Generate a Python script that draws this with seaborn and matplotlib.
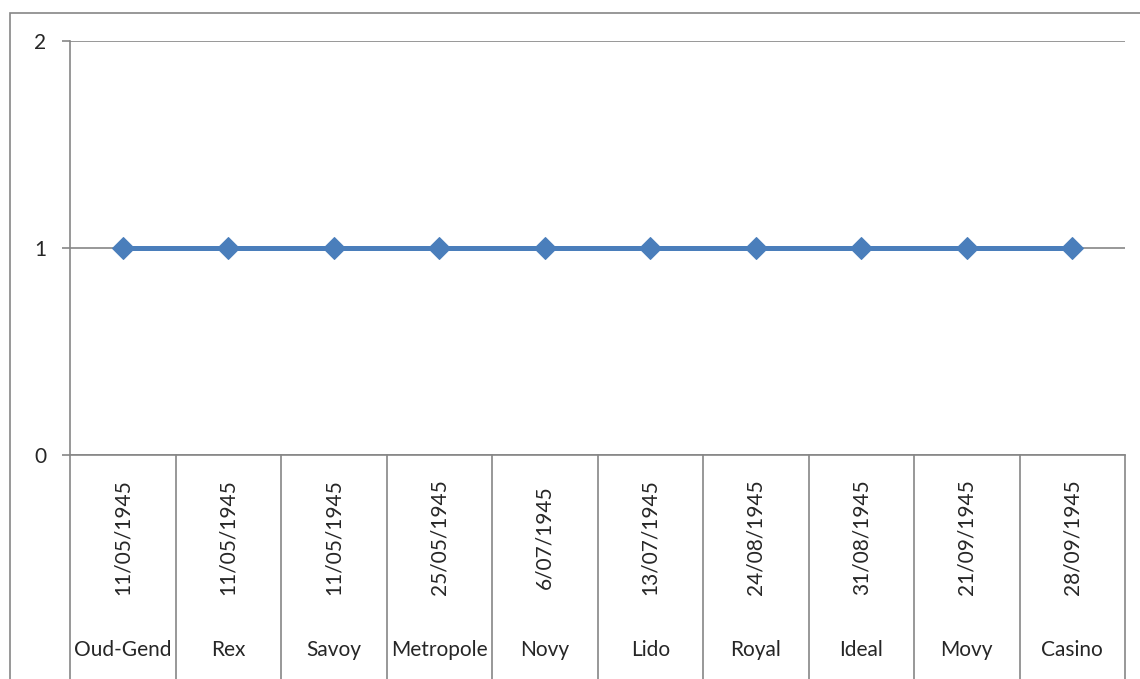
import matplotlib
matplotlib.use("Agg")
import matplotlib.pyplot as plt
import matplotlib.patches as mpatches
import seaborn as sns
import pandas as pd

# Chart data
cinemas = ["Oud-Gend", "Rex", "Savoy", "Metropole", "Novy", "Lido",
           "Royal", "Ideal", "Movy", "Casino"]
dates = ["11/05/1945", "11/05/1945", "11/05/1945", "25/05/1945", "6/07/1945",
         "13/07/1945", "24/08/1945", "31/08/1945", "21/09/1945", "28/09/1945"]
counts = [1, 1, 1, 1, 1, 1, 1, 1, 1, 1]
y_ticks = [0, 1, 2]

sns.set_style("white")
plt.rcParams['font.family'] = ['Lato', 'DejaVu Sans']

grey = "#868686"
blue = "#4A7EBB"

df = pd.DataFrame({"pos": range(len(cinemas)), "count": counts})

fig = plt.figure(figsize=(11.4, 6.79), dpi=100)
# outer chart border like the Excel chart area
fig.patches.append(mpatches.Rectangle((10 / 1140, -0.05), 1.2, 1 - 13 / 679 + 0.05,
                                      transform=fig.transFigure, fill=False,
                                      edgecolor=grey, linewidth=1.2))

ax = fig.add_axes([70 / 1140, 1 - 455 / 679, 1055 / 1140, 414 / 679])

sns.lineplot(data=df, x="pos", y="count", ax=ax, color=blue, linewidth=3.6,
             marker="D", markersize=11, markeredgecolor=blue, zorder=3)

ax.set_xlim(-0.5, len(cinemas) - 0.5)
ax.set_ylim(0, 2)
ax.set_yticks(y_ticks)
ax.set_yticklabels([str(t) for t in y_ticks], fontsize=15)
ax.set_xticks([])
ax.set_xlabel("")
ax.set_ylabel("")
ax.yaxis.grid(True, color=grey, linewidth=1.2)
ax.set_axisbelow(True)
ax.tick_params(axis="y", length=6, width=1.2, color=grey, pad=11, direction="out",
               left=True)

for side in ["top", "right"]:
    ax.spines[side].set_visible(False)
for side in ["left", "bottom"]:
    ax.spines[side].set_color(grey)
    ax.spines[side].set_linewidth(1.2)

# multi-level category axis: separators, dates and names
trans = ax.get_xaxis_transform()
for i in range(len(cinemas) + 1):
    ax.plot([i - 0.5, i - 0.5], [0, -0.6], transform=trans, color=grey,
            linewidth=1.2, clip_on=False)
for i, (d, c) in enumerate(zip(dates, cinemas)):
    ax.text(i, -0.198, d, transform=trans, rotation=90, ha="center", va="center",
            fontsize=15)
    ax.text(i, -0.472, c, transform=trans, ha="center", va="center", fontsize=15)

fig.savefig("out.png", dpi=100)
